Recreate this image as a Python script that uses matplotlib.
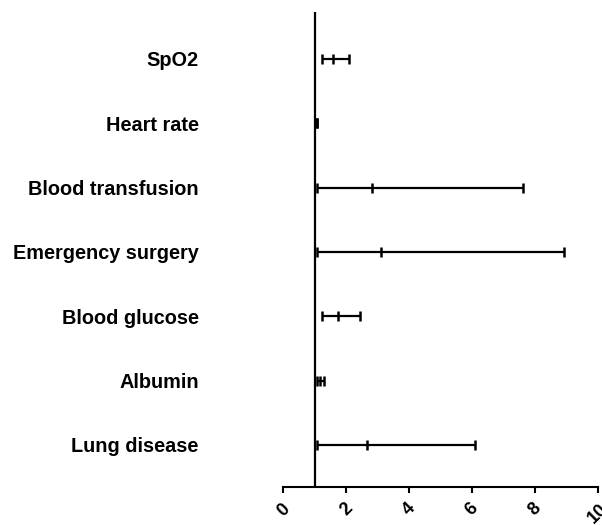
import numpy as np
import matplotlib
matplotlib.use('Agg')
import matplotlib.pyplot as plt

plt.rcParams['font.family'] = ['Liberation Sans', 'DejaVu Sans']

labels = ['SpO2', 'Heart rate', 'Blood transfusion', 'Emergency surgery',
          'Blood glucose', 'Albumin', 'Lung disease']
odds = [1.58, 1.05, 2.80, 3.10, 1.74, 1.17, 2.66]
lower = [1.21, 1.02, 1.05, 1.05, 1.23, 1.06, 1.05]
upper = [2.08, 1.08, 7.62, 8.92, 2.43, 1.28, 6.09]
xticks = [0, 2, 4, 6, 8, 10]

odds = np.array(odds)
err = [odds - np.array(lower), np.array(upper) - odds]
ypos = np.arange(len(labels))[::-1] + 1  # SpO2 on top

fig = plt.figure(figsize=(6.02, 5.25), dpi=100)
ax = fig.add_axes([0.4709, 0.0724, 0.5224, 0.9048])

ax.errorbar(odds, ypos, xerr=err, fmt='|', color='black', ecolor='black',
            elinewidth=1.6, capsize=3.7, capthick=1.8, markersize=7, mew=1.8)
ax.axvline(1, color='black', lw=1.6, zorder=0)

ax.set_xlim(0, 10)
ax.set_ylim(0.347, 7.73)
ax.set_xticks(xticks)
ax.set_xticklabels([str(t) for t in xticks], rotation=45, ha='center',
                   fontsize=13, fontweight='bold')
ax.tick_params(axis='x', length=4.5, width=1.5, pad=5)

ax.set_yticks(ypos)
ax.set_yticklabels(labels, fontsize=14.3, fontweight='bold')
ax.tick_params(axis='y', length=0, pad=61)

for s in ['top', 'right', 'left']:
    ax.spines[s].set_visible(False)
ax.spines['bottom'].set_linewidth(1.5)

fig.savefig('out.png', dpi=100)
